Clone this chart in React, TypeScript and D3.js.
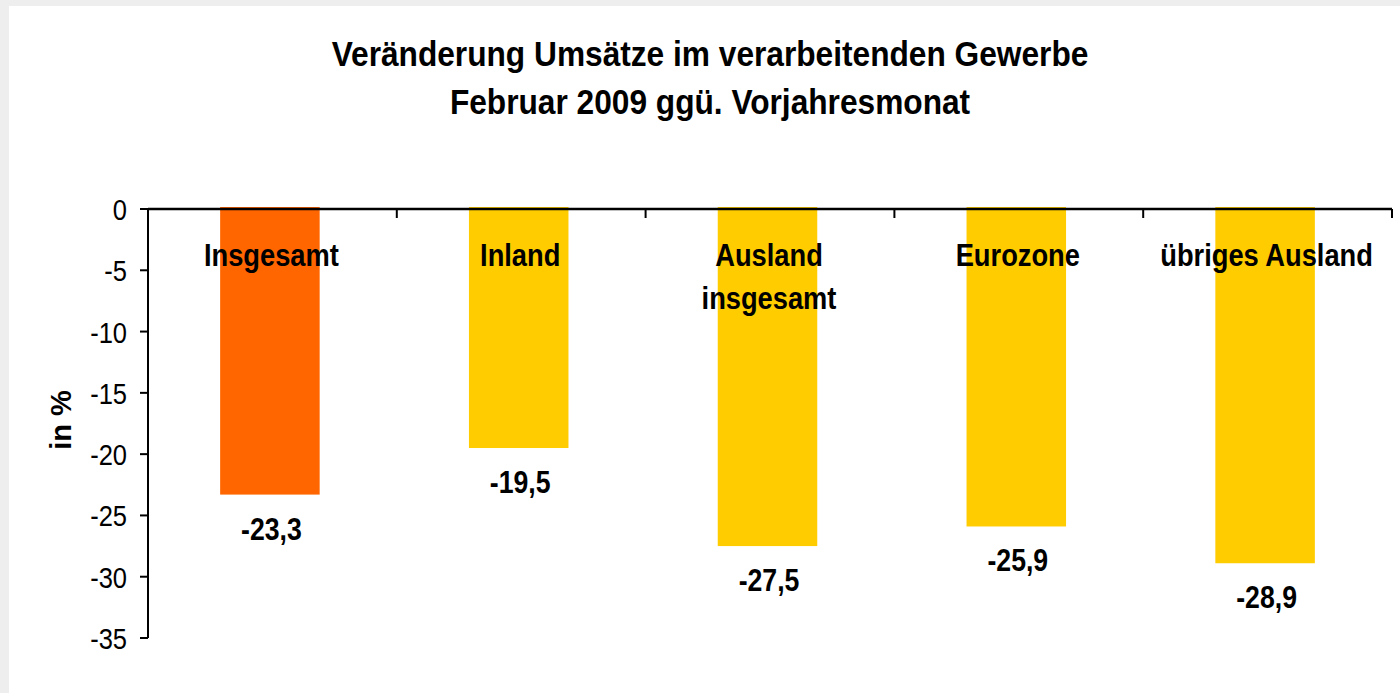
import React from "react";
import * as d3 from "d3";

const categories = ["Insgesamt", "Inland", "Ausland insgesamt", "Eurozone", "übriges Ausland"];
const categoryLines = [["Insgesamt"], ["Inland"], ["Ausland", "insgesamt"], ["Eurozone"], ["übriges Ausland"]];
const values = [-23.3, -19.5, -27.5, -25.9, -28.9];
const barColors = ["#FF6600", "#FFCC00", "#FFCC00", "#FFCC00", "#FFCC00"];
const yTicks = [0, -5, -10, -15, -20, -25, -30, -35];
const titleLines = ["Veränderung Umsätze im verarbeitenden Gewerbe", "Februar 2009 ggü. Vorjahresmonat"];
const yLabel = "in %";

const W = 1400;
const H = 693;
const FONT = "'Liberation Sans', Arial, Helvetica, sans-serif";
const SX = 0.88;

export default function App() {
  const x = d3.scaleBand<string>().domain(categories).range([145.5, 1389.5]).paddingInner(0.6).paddingOuter(0.3);
  const y = d3.scaleLinear().domain([-35, 0]).range([638, 209]);
  const step = 1244 / categories.length;
  const boundaries = d3.range(categories.length + 1).map((i) => 148 + i * step);
  const fmt = (v: number) => v.toFixed(1).replace(".", ",");

  return (
    <svg
      width={W}
      height={H}
      style={{ position: "fixed", left: 0, top: 0, display: "block" }}
      fontFamily={FONT}
    >
      <rect x={0} y={0} width={W} height={H} fill="#eeeeee" />
      <rect x={9} y={6} width={W - 9} height={H - 6} fill="#ffffff" />

      {titleLines.map((t, i) => (
        <text
          key={t}
          transform={`translate(710,${66 + i * 48}) scale(${SX},1)`}
          textAnchor="middle"
          fontSize={36}
          fontWeight="bold"
          fill="#000"
        >
          {t}
        </text>
      ))}

      {/* bars */}
      {categories.map((c, i) => (
        <rect
          key={c}
          x={x(c)}
          y={y(0) - 2}
          width={x.bandwidth()}
          height={y(values[i]) - y(0) + 2}
          fill={barColors[i]}
        />
      ))}

      {/* y axis */}
      <line x1={148} x2={148} y1={y(0)} y2={y(-35)} stroke="#000" strokeWidth={2} />
      {yTicks.map((t) => (
        <g key={t}>
          <line x1={140} x2={148} y1={y(t)} y2={y(t)} stroke="#000" strokeWidth={2} />
          <text
            transform={`translate(127,${y(t) + 11}) scale(0.85,1)`}
            textAnchor="end"
            fontSize={30}
            fill="#000"
          >
            {t}
          </text>
        </g>
      ))}

      {/* x axis */}
      <line x1={148} x2={1392} y1={y(0)} y2={y(0)} stroke="#000" strokeWidth={2.5} />
      {boundaries.slice(1).map((b, i) => (
        <line key={i} x1={b} x2={b} y1={y(0)} y2={y(0) + 9} stroke="#000" strokeWidth={2} />
      ))}

      {/* category labels */}
      {categories.map((c, i) => (
        <g key={c}>
          {categoryLines[i].map((ln, j) => (
            <text
              key={ln}
              transform={`translate(${(x(c) as number) + x.bandwidth() / 2 + 1.5},${266 + j * 43}) scale(${SX},1)`}
              textAnchor="middle"
              fontSize={31}
              fontWeight="bold"
              fill="#000"
            >
              {ln}
            </text>
          ))}
        </g>
      ))}

      {/* value labels */}
      {categories.map((c, i) => (
        <text
          key={c}
          transform={`translate(${(x(c) as number) + x.bandwidth() / 2 + 1.5},${y(values[i]) + 45}) scale(0.86,1)`}
          textAnchor="middle"
          fontSize={31}
          fontWeight="bold"
          fill="#000"
        >
          {fmt(values[i])}
        </text>
      ))}

      {/* y label */}
      <text
        transform={`translate(71,420) rotate(-90)`}
        textAnchor="middle"
        fontSize={29}
        fontWeight="bold"
        fill="#000"
      >
        {yLabel}
      </text>
    </svg>
  );
}
